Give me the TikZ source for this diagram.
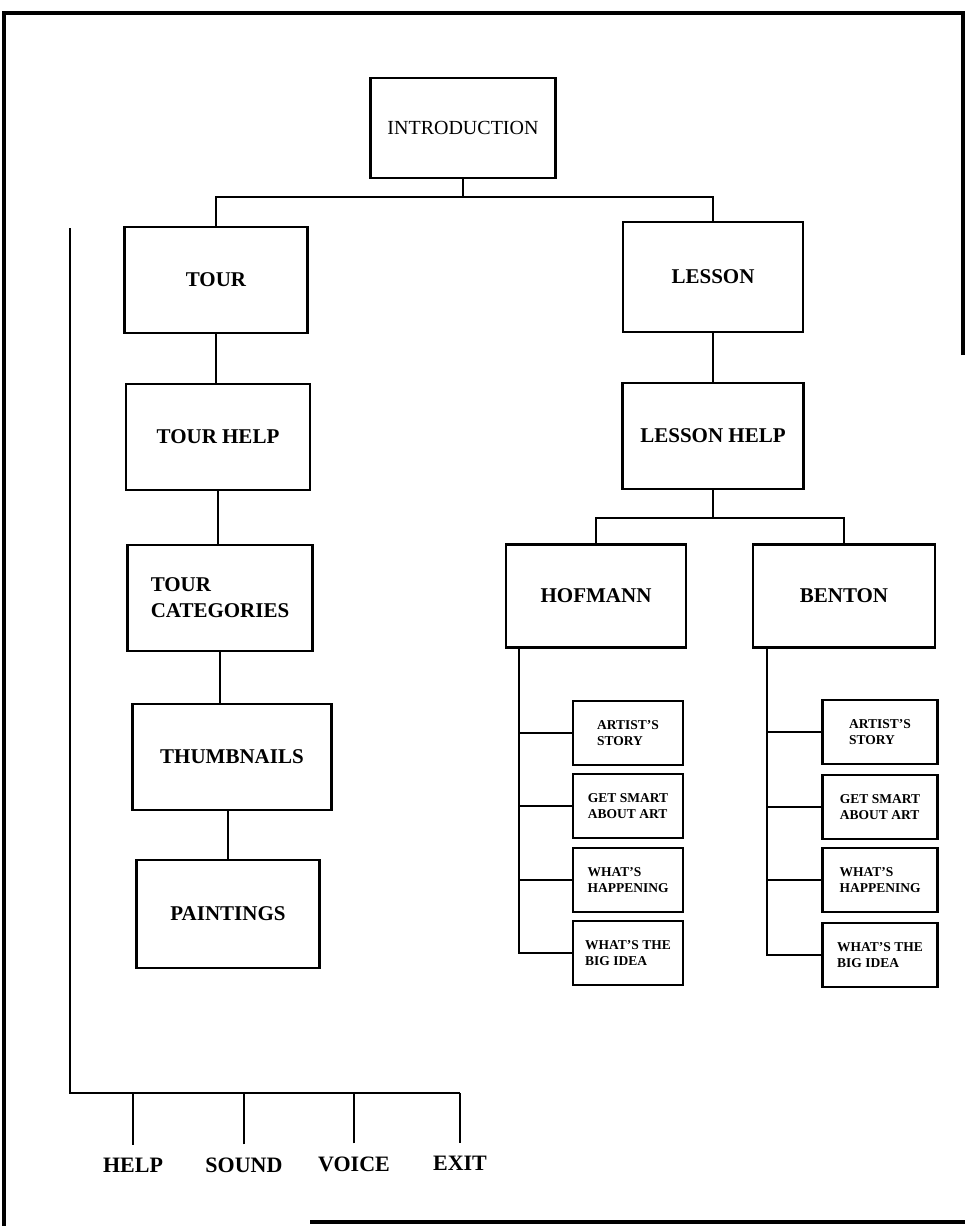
\documentclass[tikz,border=0pt]{standalone}
\usepackage{fontspec}
\setmainfont{Liberation Serif}
\usetikzlibrary{positioning,calc}

\begin{document}
\begin{tikzpicture}[
  x=1pt, y=-1pt,
  frame/.style={line width=3.2pt, black},
  link/.style={line width=2.4pt, black},
  screen/.style={rectangle, draw, line width=2.4pt, minimum width=183pt, minimum height=106pt, inner sep=2pt, font=\fontsize{21}{26}\selectfont\bfseries},
  subscreen/.style={rectangle, draw, line width=2.4pt, minimum width=110pt, minimum height=64pt, inner sep=2pt, align=left, font=\fontsize{13.5}{16}\selectfont\bfseries},
  option/.style={font=\fontsize{22}{26}\selectfont\bfseries, inner sep=1pt}
]
\useasboundingbox (0,0) rectangle (965,1226);

% Frame
\draw[frame] (963,355) -- (963,13) -- (4,13) -- (4,1226);
\draw[frame] (310,1222) -- (965,1222);

% Introduction
\node[screen, minimum width=185pt, minimum height=100pt, font=\fontsize{20}{24}\selectfont] (intro) at (463,128) {INTRODUCTION};
\coordinate (split) at (463,197);

% Tour column
\node[screen] (tour) at (216,280) {TOUR};
\node[screen, minimum width=184pt] (tourhelp) at (218,437) {TOUR HELP};
\node[screen, minimum width=185pt, align=left] (tourcat) at (220,598) {TOUR\\CATEGORIES};
\node[screen, minimum width=199pt] (thumbs) at (232,757) {THUMBNAILS};
\node[screen, minimum height=108pt] (paintings) at (228,914) {PAINTINGS};

% Lesson column
\node[screen, minimum width=180pt, minimum height=110pt] (lesson) at (713,277) {LESSON};
\node[screen, minimum width=181pt] (lessonhelp) at (713,436) {LESSON HELP};
\coordinate (fork) at (713,518);
\node[screen, minimum width=180pt, minimum height=103pt] (hofmann) at (596,596) {HOFMANN};
\node[screen, minimum width=182pt, minimum height=103pt] (benton) at (844,596) {BENTON};

% Hofmann screens
\node[subscreen] (hstory) at (628,733) {ARTIST'S\\STORY};
\node[subscreen] (hsmart) at (628,806) {GET SMART\\ABOUT ART};
\node[subscreen] (hhappen) at (628,880) {WHAT'S\\HAPPENING};
\node[subscreen] (hidea) at (628,953) {WHAT'S THE\\BIG IDEA};

% Benton screens
\node[subscreen, minimum width=115pt] (bstory) at (880,732) {ARTIST'S\\STORY};
\node[subscreen, minimum width=115pt] (bsmart) at (880,807) {GET SMART\\ABOUT ART};
\node[subscreen, minimum width=115pt] (bhappen) at (880,880) {WHAT'S\\HAPPENING};
\node[subscreen, minimum width=115pt] (bidea) at (880,955) {WHAT'S THE\\BIG IDEA};

% Global options
\node[option] (help) at (133,1165) {HELP};
\node[option] (sound) at (244,1165) {SOUND};
\node[option] (voice) at (354,1164) {VOICE};
\node[option] (exit) at (460,1163) {EXIT};
\coordinate (railtop) at (70,228);
\coordinate (railcorner) at (70,1093);

% Connectors
\draw[link] (intro) -- (split);
\draw[link] (tour.north) |- (split) -| (lesson.north);
\draw[link] (tour.south) -- (tour.south |- tourhelp.north);
\draw[link] (tourhelp.south) -- (tourhelp.south |- tourcat.north);
\draw[link] (tourcat.south) -- (tourcat.south |- thumbs.north);
\draw[link] (paintings.north) -- (paintings.north |- thumbs.south);
\draw[link] (lesson) -- (lessonhelp);
\draw[link] (lessonhelp) -- (fork);
\draw[link] (hofmann.north) |- (fork) -| (benton.north);

\coordinate (htrunk) at ([xshift=14pt]hofmann.south west);
\draw[link] (htrunk) |- (hidea.west);
\foreach \n in {hstory,hsmart,hhappen}
  \draw[link] (\n.west) -- (\n.west -| htrunk);

\coordinate (btrunk) at ([xshift=15pt]benton.south west);
\draw[link] (btrunk) |- (bidea.west);
\foreach \n in {bstory,bsmart,bhappen}
  \draw[link] (\n.west) -- (\n.west -| btrunk);

\draw[link] (railtop) -- (railcorner) -- (railcorner -| exit);
\foreach \n in {help,sound,voice,exit}
  \draw[link] ([yshift=12pt]\n.north) -- (\n.north |- railcorner);

\end{tikzpicture}
\end{document}
